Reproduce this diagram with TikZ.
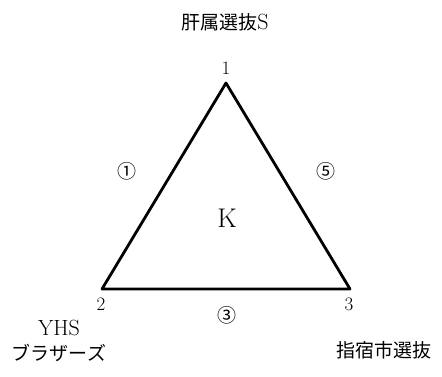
\documentclass[tikz,border=0pt]{standalone}
\usepackage{fontspec}
\newfontfamily\jp{Noto Sans CJK JP}
\begin{document}
\begin{tikzpicture}[x=1pt,y=-1pt,
  edge/.style={line width=2.8pt,line cap=round,line join=round},
  num/.style={font=\fontsize{19}{19}\selectfont,inner sep=0pt},
  team/.style={font=\jp\fontsize{19}{25}\selectfont,inner sep=0pt,align=center},
  circ/.style={font=\jp\fontsize{19}{19}\selectfont,inner sep=0pt}]
\useasboundingbox (0,0) rectangle (442,376);
\coordinate (v1) at (226,83);
\coordinate (v2) at (102,289);
\coordinate (v3) at (350,289);
\draw[edge] (v1) -- (v2) -- (v3) -- cycle;
\node[num] (n1) at (226,68) {1};
\node[num] (n2) at (101,304) {2};
\node[num] (n3) at (349,304) {3};
\node[team] (t1) at (225,22) {肝属選抜{\rmfamily\fontsize{22}{22}\selectfont S}};
\node[team] (t2) at (59,341) {{\rmfamily\fontsize{22}{22}\selectfont YHS}\\ブラザーズ};
\node[team] (t3) at (384,350) {指宿市選抜};
\node[circ] (c1) at (127,171) {①};
\node[circ] (c5) at (326,171) {⑤};
\node[circ] (c3) at (227,315) {③};
\node[font=\fontsize{27}{27}\selectfont,inner sep=0pt] (k) at (227,218) {K};
\end{tikzpicture}
\end{document}
